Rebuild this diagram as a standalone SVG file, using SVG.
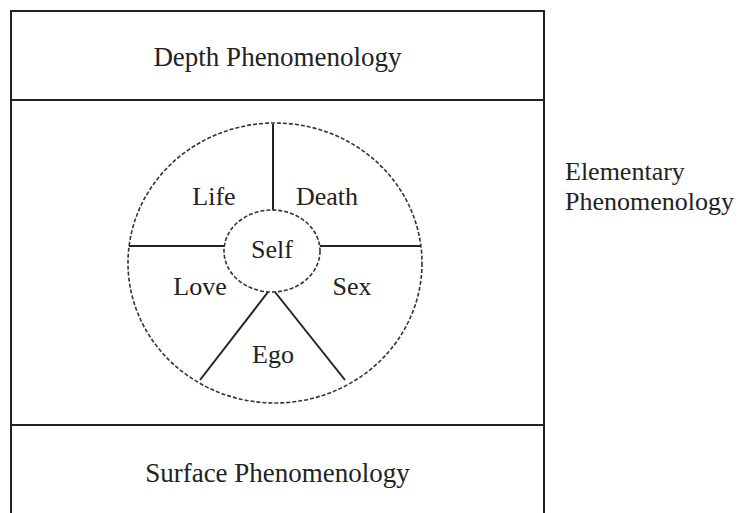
<svg xmlns="http://www.w3.org/2000/svg" width="746" height="513" viewBox="0 0 746 513">
<style>
.t{font-family:"Liberation Serif",serif;fill:#222;text-anchor:middle}
.s{text-anchor:start}
.frame{fill:none;stroke:#222;stroke-width:2}
.dash{fill:none;stroke:#333;stroke-width:1.6;stroke-dasharray:4 2}
.ln{stroke:#222;stroke-width:2}
</style>
<rect width="746" height="513" fill="#fff"/>
<g id="frame">
<polyline class="frame" points="11,513 11,11 544,11 544,513"/>
</g>
<g id="depth">
<text class="t" x="277.5" y="66" font-size="27">Depth Phenomenology</text>
</g>
<g id="elementary">
<text class="t s" x="565" y="180" font-size="26">Elementary</text>
<text class="t s" x="565" y="210" font-size="26">Phenomenology</text>
</g>
<g id="surface">
<text class="t" x="277.5" y="482" font-size="27">Surface Phenomenology</text>
</g>
<g id="connectors">
<line class="ln" x1="11" y1="100" x2="544" y2="100"/>
<line class="ln" x1="11" y1="425" x2="544" y2="425"/>
<line class="ln" x1="273" y1="124" x2="273" y2="210"/>
<line class="ln" x1="129" y1="246" x2="224" y2="246"/>
<line class="ln" x1="320" y1="246" x2="421" y2="246"/>
<line class="ln" x1="268" y1="292" x2="200" y2="380"/>
<line class="ln" x1="275" y1="292" x2="345" y2="380"/>
</g>
<g id="wheel">
<ellipse class="dash" cx="275" cy="263" rx="147" ry="140"/>
</g>
<g id="self">
<ellipse class="dash" cx="272" cy="251" rx="48" ry="41"/>
<text class="t" x="272" y="258" font-size="26">Self</text>
</g>
<g id="life"><text class="t" x="214" y="205" font-size="26">Life</text></g>
<g id="death"><text class="t" x="327" y="205" font-size="26">Death</text></g>
<g id="love"><text class="t" x="200" y="295" font-size="26">Love</text></g>
<g id="sex"><text class="t" x="352" y="295" font-size="26">Sex</text></g>
<g id="ego"><text class="t" x="273" y="363" font-size="26">Ego</text></g>
</svg>
